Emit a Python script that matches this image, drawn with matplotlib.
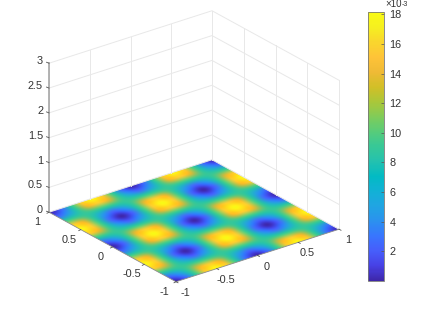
import numpy as np
import matplotlib
matplotlib.use('Agg')
import matplotlib.pyplot as plt
from matplotlib.colors import LinearSegmentedColormap, Normalize
from matplotlib.cm import ScalarMappable
from matplotlib.patches import Polygon
from matplotlib.transforms import Affine2D

plt.rcParams['font.family'] = ['Liberation Sans', 'DejaVu Sans']

x_ticks = [-1, -0.5, 0, 0.5, 1]
y_ticks = [-1, -0.5, 0, 0.5, 1]
z_ticks = [0, 0.5, 1, 1.5, 2, 2.5, 3]
x_labels = ['-1', '-0.5', '0', '0.5', '1']
y_labels = ['-1', '-0.5', '0', '0.5', '1']
z_labels = ['0', '0.5', '1', '1.5', '2', '2.5', '3']
cbar_ticks = [2, 4, 6, 8, 10, 12, 14, 16, 18]

# surface read on a 0.125 lattice, units of 1e-3
row_a = [0.1, 2.2, 9, 15.8, 18, 15.8, 9, 2.2, 0.1, 2.2, 9, 15.8, 18, 15.8, 9, 2.2, 0.1]
row_b = [2.2, 4.2, 9, 13.8, 15.8, 13.8, 9, 4.2, 2.2, 4.2, 9, 13.8, 15.8, 13.8, 9, 4.2, 2.2]
row_c = [9, 9, 9, 9, 9, 9, 9, 9, 9, 9, 9, 9, 9, 9, 9, 9, 9]
row_d = [15.8, 13.8, 9, 4.2, 2.2, 4.2, 9, 13.8, 15.8, 13.8, 9, 4.2, 2.2, 4.2, 9, 13.8, 15.8]
row_e = [18, 15.8, 9, 2.2, 0.1, 2.2, 9, 15.8, 18, 15.8, 9, 2.2, 0.1, 2.2, 9, 15.8, 18]
surface = [row_a, row_b, row_c, row_d, row_e, row_d, row_c, row_b, row_a,
           row_b, row_c, row_d, row_e, row_d, row_c, row_b, row_a]

parula = LinearSegmentedColormap.from_list('parula', [
    (0.2422, 0.1504, 0.6603), (0.2783, 0.2559, 0.8991), (0.2760, 0.3667, 0.9829),
    (0.2206, 0.4603, 0.9973), (0.1687, 0.5703, 0.9359), (0.1248, 0.6459, 0.8883),
    (0.0689, 0.6948, 0.8394), (0.0067, 0.7312, 0.7660), (0.1408, 0.7584, 0.6842),
    (0.2161, 0.7843, 0.5923), (0.3406, 0.8008, 0.4789), (0.5044, 0.7993, 0.3480),
    (0.6720, 0.7793, 0.2227), (0.8203, 0.7498, 0.1535), (0.9393, 0.7288, 0.2100),
    (0.9970, 0.7659, 0.2199), (0.9786, 0.8386, 0.1766), (0.9628, 0.9373, 0.1265),
    (0.9769, 0.9839, 0.0805)])

# box projection in image pixels
ox, oy = 194, 220.75
xu = (81.5, -26.25)
yu = (-63.5, -34.75)
zu = 49.67


def proj(x, y, z=0):
    return ox + x * xu[0] + y * yu[0], oy + x * xu[1] + y * yu[1] - z * zu


fig = plt.figure(figsize=(4.23, 3.17), dpi=100)
ax = fig.add_axes([0, 0, 1, 1])

norm = Normalize(0, 18.15)
# extra cells around the edge so the resampler does not fade the rim, clipped below
pad = 8
edge = 1.0625 + pad * 0.125
im = ax.imshow(np.pad(np.array(surface), pad, mode='reflect'), cmap=parula, norm=norm, origin='lower',
               aspect='auto', extent=(-edge, edge, -edge, edge), interpolation='catrom')
im.set_transform(Affine2D(np.array([[xu[0], yu[0], ox], [xu[1], yu[1], oy], [0, 0, 1]])) + ax.transData)
floor = Polygon([proj(-1, -1), proj(1, -1), proj(1, 1), proj(-1, 1)], closed=True,
                transform=ax.transData, fill=False, ec='none')
ax.add_patch(floor)
im.set_clip_path(floor)

ax.set_xlim(0, 423)
ax.set_ylim(317, 0)
ax.axis('off')

grid_c = '#e8e8e8'
for t in x_ticks:
    ax.plot(*zip(proj(t, 1, 0), proj(t, 1, 3)), c=grid_c, lw=0.7, zorder=1)
for t in y_ticks:
    ax.plot(*zip(proj(1, t, 0), proj(1, t, 3)), c=grid_c, lw=0.7, zorder=1)
for t in z_ticks:
    ax.plot(*zip(proj(-1, 1, t), proj(1, 1, t), proj(1, -1, t)), c=grid_c, lw=0.7, zorder=1)

# axis lines and ticks
axis_c = '#8c8c8c'
ax.plot(*zip(proj(-1, 1, 0), proj(-1, 1, 3)), c='#a6a6a6', lw=1.2, zorder=3)
ax.plot(*zip(proj(-1, 1), proj(-1, -1), proj(1, -1)), c=axis_c, lw=0.6, zorder=3)
for t, lab in zip(z_ticks, z_labels):
    px, py = proj(-1, 1, t)
    ax.plot([px - 2.5, px], [py - 1, py], c='#555555', lw=0.6, zorder=3)
    ax.text(px - 6, py - 2, lab, ha='right', va='center', fontsize=7.8, color='#333333')
for t, lab in zip(y_ticks, y_labels):
    px, py = proj(-1, t)
    ax.plot([px - 2, px], [py + 1, py], c='#555555', lw=0.6, zorder=3)
    ax.text(px - 12, py + 10, lab, ha='center', va='center', fontsize=7.8, color='#333333')
for t, lab in zip(x_ticks, x_labels):
    px, py = proj(t, -1)
    ax.plot([px + 2, px], [py + 1, py], c='#555555', lw=0.6, zorder=3)
    ax.text(px + 9, py + 11, lab, ha='center', va='center', fontsize=7.8, color='#333333')

cax = fig.add_axes([367.5 / 423, 1 - 281 / 317, 16.5 / 423, 269 / 317])
cbar = fig.colorbar(ScalarMappable(norm=norm, cmap=parula), cax=cax)
cbar.set_ticks(cbar_ticks)
cbar.ax.tick_params(direction='in', length=2, width=0.5, labelsize=7.8, labelcolor='#333333',
                    color='#555555', pad=4)
cbar.outline.set_edgecolor('#777777')
cbar.outline.set_linewidth(0.6)
fig.text(385 / 423, 1 - 4 / 317, '×10', fontsize=7, color='#333333', ha='left', va='center')
fig.text(402 / 423, 1 - 0.5 / 317, '-3', fontsize=5, color='#333333', ha='left', va='top')

fig.savefig('out.png', dpi=100)
